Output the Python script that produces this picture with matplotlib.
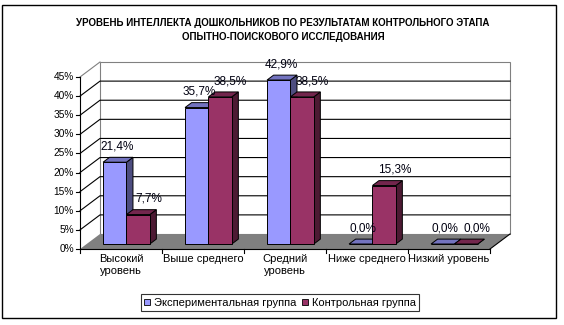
import matplotlib
matplotlib.use('Agg')
import matplotlib.pyplot as plt
from matplotlib.patches import Polygon, Rectangle
from matplotlib.lines import Line2D
from matplotlib.transforms import IdentityTransform, offset_copy

plt.rcParams['font.family'] = ['Liberation Sans', 'DejaVu Sans']

# data
categories = ['Высокий\nуровень', 'Выше среднего', 'Средний\nуровень',
              'Ниже среднего', 'Низкий уровень']
exp_group = [21.4, 35.7, 42.9, 0.0, 0.0]
ctrl_group = [7.7, 38.5, 38.5, 15.3, 0.0]
series_names = ['Экспериментальная группа', 'Контрольная группа']
y_ticks = [0, 5, 10, 15, 20, 25, 30, 35, 40, 45]
title = ('УРОВЕНЬ ИНТЕЛЛЕКТА ДОШКОЛЬНИКОВ ПО РЕЗУЛЬТАТАМ КОНТРОЛЬНОГО ЭТАПА\n'
         'ОПЫТНО-ПОИСКОВОГО ИССЛЕДОВАНИЯ')

# colours: front, side, top
blue = ('#9999FF', '#4D4D80', '#7373BF')
red = ('#993366', '#4D1A33', '#73264D')

W, H = 564, 325
DX, DY = 20, 15          # depth of the 3d box in pixels
BW = 0.285               # bar width in category units
D0, D1 = 1 / 3, 0.66     # bar front / back depth

fig = plt.figure(figsize=(W / 100, H / 100), dpi=100)
# back wall of the chart
ax = fig.add_axes([100 / W, (H - 234) / H, 410 / W, 172 / H])
ax.set_xlim(-0.5, len(categories) - 0.5)
ax.set_ylim(0, 45)
ax.axis('off')


def P(x, y, d):
    px, py = ax.transData.transform((x, y))
    return (px + (d - 1) * DX, py + (d - 1) * DY)


def poly(pts, fc, ec='none', lw=0.7, z=1):
    ax.add_patch(Polygon(pts, closed=True, facecolor=fc, edgecolor=ec,
                         linewidth=lw, transform=IdentityTransform(),
                         clip_on=False, zorder=z))


def line(pts, color='black', lw=0.8, z=2):
    xs = [p[0] for p in pts]
    ys = [p[1] for p in pts]
    ax.add_line(Line2D(xs, ys, color=color, linewidth=lw,
                       transform=IdentityTransform(), clip_on=False, zorder=z))


x0, x1 = -0.5, len(categories) - 0.5
ymax = y_ticks[-1]

# walls
poly([P(x0, 0, 1), P(x1, 0, 1), P(x1, ymax, 1), P(x0, ymax, 1)], 'white',
     ec='#808080', lw=0.8, z=1)
for v in y_ticks[1:-1]:
    line([P(x0, v, 0), P(x0, v, 1), P(x1, v, 1)])
line([P(x0, ymax, 0), P(x0, ymax, 1)], color='#808080')

# floor
poly([P(x0, 0, 0), P(x1, 0, 0), P(x1, 0, 1), P(x0, 0, 1)], '#808080', z=2)
line([P(x1, 0, 1), P(x1, 0, 0)], lw=0.8, z=2)

# value axis
line([P(x0, 0, 0), P(x0, ymax, 0)], z=3)
for v in y_ticks:
    px, py = P(x0, v, 0)
    line([(px - 4, py), (px, py)], z=3)
ytrans = offset_copy(ax.transData, fig, x=-DX - 6, y=-DY, units='dots')
for v in y_ticks:
    ax.text(x0, v, f'{v}%', transform=ytrans, ha='right', va='center',
            fontsize=7.3, clip_on=False)

# category axis
line([P(x0, 0, 0), P(x1, 0, 0)], z=3)
for i in range(len(categories) + 1):
    px, py = P(x0 + i, 0, 0)
    line([(px, py), (px, py - 4)], z=3)
xtrans = offset_copy(ax.transData, fig, x=-DX, y=-DY - 5, units='dots')
for i, c in enumerate(categories):
    ax.text(i, 0, c, transform=xtrans, ha='center', va='top', fontsize=8,
            linespacing=1.3, clip_on=False)


def bar3d(left, v, cols):
    right = left + BW
    front = [P(left, 0, D0), P(right, 0, D0), P(right, v, D0), P(left, v, D0)]
    side = [P(right, 0, D0), P(right, 0, D1), P(right, v, D1), P(right, v, D0)]
    top = [P(left, v, D0), P(right, v, D0), P(right, v, D1), P(left, v, D1)]
    poly(side, cols[1], ec='black', z=4)
    poly(top, cols[2], ec='black', z=4)
    poly(front, cols[0], ec='black', z=4)


# value labels sit over the middle of each bar top, the pair spread apart
lab_shift = [-4, 4]
for i in range(len(categories)):
    for k, (vals, cols) in enumerate([(exp_group, blue), (ctrl_group, red)]):
        left = i - 0.3 + k * BW
        bar3d(left, vals[i], cols)
        lab_trans = offset_copy(ax.transData, fig,
                                x=(0.5 - 1) * DX + 3 + lab_shift[k],
                                y=(0.5 - 1) * DY, units='dots')
        ax.annotate(f'{vals[i]:.1f}'.replace('.', ',') + '%',
                    xy=(left + BW / 2, vals[i]), xycoords=lab_trans,
                    xytext=(0, 9.5), textcoords='offset points',
                    ha='center', va='center', fontsize=8.5, color='#000010',
                    annotation_clip=False, zorder=6)

# title
fig.text(283 / W, 1 - 30 / H, title, ha='center', va='center', fontsize=7,
         fontweight='bold', linespacing=1.6)

# legend
handles = [Line2D([], [], linestyle='none', marker='s', markersize=4.5,
                  markerfacecolor=c[0], markeredgecolor='black',
                  markeredgewidth=0.6) for c in (blue, red)]
leg = fig.legend(handles, series_names, loc='center',
                 bbox_to_anchor=(280 / W, 1 - 302.5 / H), ncol=2,
                 fontsize=8, frameon=True, fancybox=False, borderpad=0.3,
                 handlelength=0.6, handletextpad=0.3, columnspacing=0.5,
                 borderaxespad=0)
leg.get_frame().set_edgecolor('black')
leg.get_frame().set_linewidth(0.8)

# outer border
fig.add_artist(Rectangle((2 / W, 7 / H), 554 / W, 313 / H, fill=False,
                         edgecolor='black', linewidth=1,
                         transform=fig.transFigure))

fig.savefig('out.png', dpi=100, facecolor='white')
